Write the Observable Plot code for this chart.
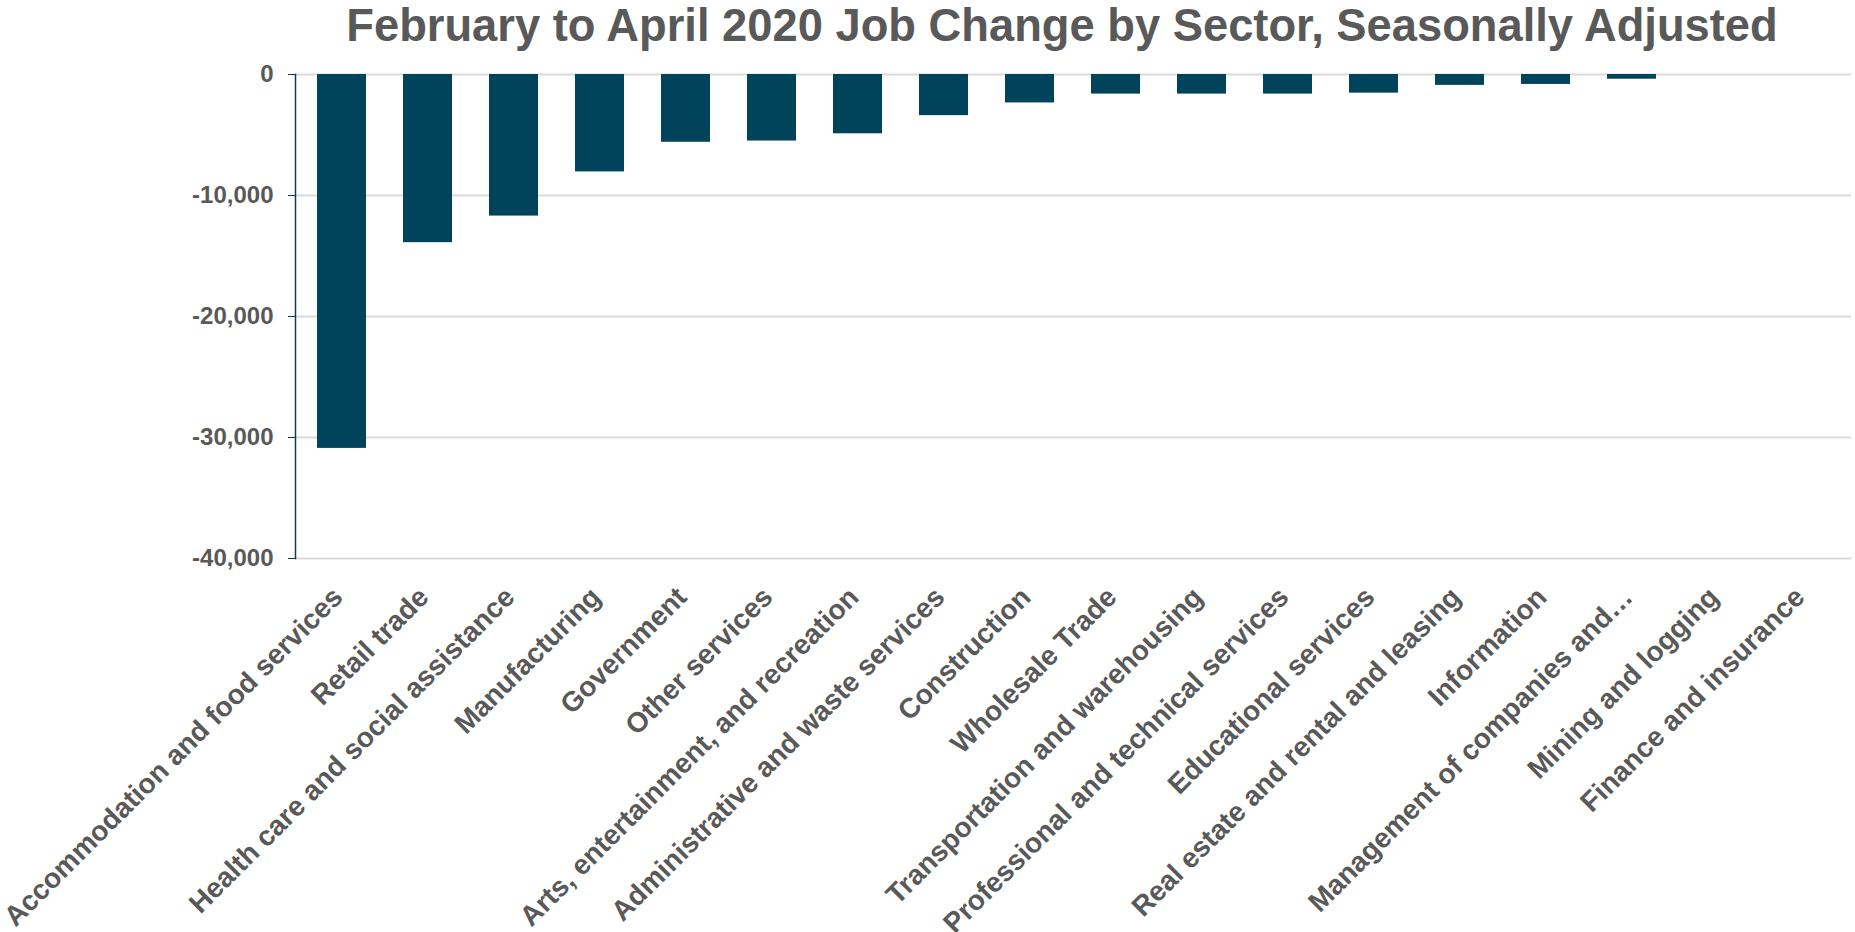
<!DOCTYPE html>
<html>
<head>
<meta charset="utf-8">
<script src="https://cdn.jsdelivr.net/npm/d3@7"></script>
<script src="https://cdn.jsdelivr.net/npm/@observablehq/plot@0.6"></script>
<style>
  html, body { margin: 0; padding: 0; background: #fff; }
  #wrap { position: relative; width: 1855px; height: 932px; overflow: hidden; }
  #title {
    position: absolute; top: 3px; left: 1062px; transform: translateX(-50%);
    white-space: nowrap; font-family: "Liberation Sans", Arial, sans-serif;
    font-weight: bold; font-size: 45.3px; line-height: 46px; color: #595959;
  }
  #chart { position: absolute; top: 0; left: 0; }
</style>
</head>
<body>
<div id="wrap">
  <div id="chart"></div>
  <div id="title">February to April 2020 Job Change by Sector, Seasonally Adjusted</div>
</div>
<script>
const sectors = [
  "Accommodation and food services",
  "Retail trade",
  "Health care and social assistance",
  "Manufacturing",
  "Government",
  "Other services",
  "Arts, entertainment, and recreation",
  "Administrative and waste services",
  "Construction",
  "Wholesale Trade",
  "Transportation and warehousing",
  "Professional and technical services",
  "Educational services",
  "Real estate and rental and leasing",
  "Information",
  "Management of companies and…",
  "Mining and logging",
  "Finance and insurance"
];
const jobChange = [-30900, -13900, -11700, -8050, -5600, -5500, -4900, -3400, -2350, -1620, -1620, -1620, -1540, -900, -820, -390, 0, 0];
const yTicks = [0, -10000, -20000, -30000, -40000];

const data = sectors.map((s, i) => ({sector: s, value: jobChange[i]}));
const fmt = d => (d < 0 ? "-" : "") + d3.format(",")(Math.abs(d));

const chart = Plot.plot({
  width: 1855,
  height: 932,
  marginTop: 74,
  marginBottom: 374,
  marginLeft: 295,
  marginRight: 4,
  style: {fontFamily: "'Liberation Sans', Arial, sans-serif", fontWeight: "bold", color: "#595959", background: "#fff"},
  x: {domain: sectors, paddingInner: 0.43, paddingOuter: 0.21, label: null},
  y: {domain: [-40000, 0], label: null},
  marks: [
    Plot.gridY(yTicks, {stroke: "#d9d9d9", strokeOpacity: 1, strokeWidth: 2}),
    Plot.barY(data, {x: "sector", y: "value", fill: "#01435b"}),
    Plot.axisY(yTicks, {tickFormat: fmt, tickSize: 7, tickPadding: 15, stroke: "#0d3b53", fontSize: 24, label: null}),
    Plot.frame({anchor: "left", stroke: "#0d3b53", strokeWidth: 1.5}),
    Plot.axisX({tickRotate: -45, tickSize: 0, tickPadding: 34, dx: -4, fontSize: 28, label: null})
  ]
});
document.getElementById("chart").appendChild(chart);
</script>
</body>
</html>
